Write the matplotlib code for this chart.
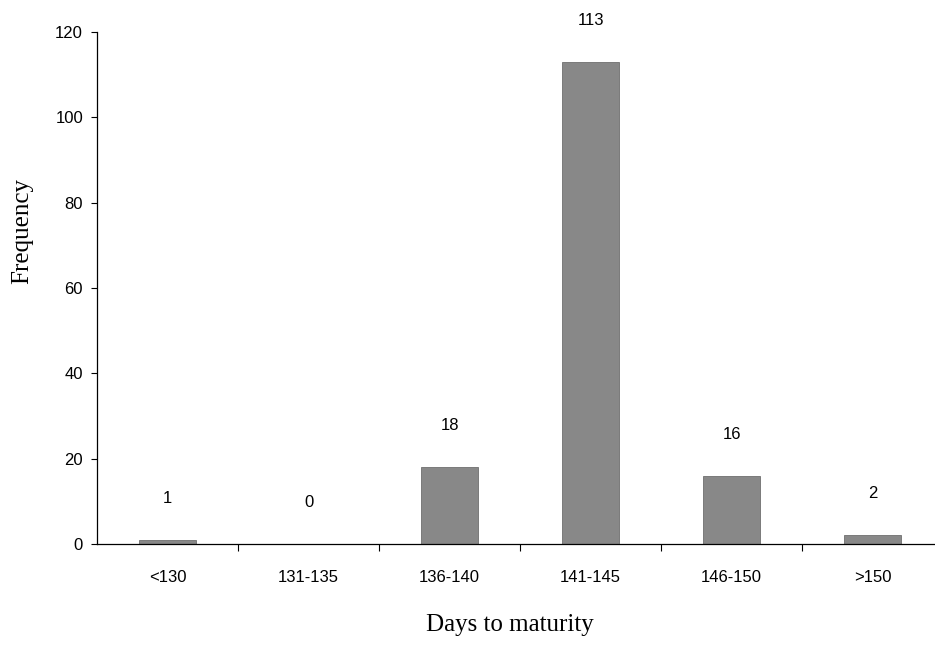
import matplotlib.pyplot as plt
import numpy as np

categories = ["<130", "131-135", "136-140", "141-145", "146-150", ">150"]
frequency = [1, 0, 18, 113, 16, 2]
y_ticks = [0, 20, 40, 60, 80, 100, 120]

fig = plt.figure(figsize=(9.35, 6.55), dpi=100)
ax = fig.add_axes([0.1037, 0.1695, 0.905, 0.7815])

x = np.arange(len(categories))
ax.bar(x, frequency, width=0.4, color="#888888", edgecolor="#6f6f6f", linewidth=0.6)

# value labels sit a fixed distance above each bar
for xi, value in zip(x, frequency):
    ax.annotate(
        str(value),
        xy=(xi, value),
        xytext=(0, 34),
        textcoords="offset pixels",
        ha="center",
        va="bottom",
        fontsize=12,
        family="Liberation Sans",
    )

ax.set_xlim(-0.5, len(categories) - 0.5)
ax.set_ylim(0, 120)
ax.set_yticks(y_ticks)
ax.set_xticks(x)
ax.set_xticklabels(categories, family="Liberation Sans", fontsize=12)
ax.set_xticks(x[:-1] + 0.5, minor=True)
ax.tick_params(axis="x", which="major", length=0, pad=19)
ax.tick_params(axis="x", which="minor", length=5, direction="out", width=0.8)
ax.tick_params(axis="y", length=4, width=0.8, pad=6, labelsize=12)
for label in ax.get_yticklabels():
    label.set_family("Liberation Sans")

ax.spines["top"].set_visible(False)
ax.spines["right"].set_visible(False)
ax.spines["left"].set_linewidth(0.9)
ax.spines["bottom"].set_linewidth(0.9)

fig.text(0.024, 0.647, "Frequency", rotation=90, ha="center", va="center",
         family="Liberation Serif", fontsize=18)
fig.text(0.545, 0.046, "Days to maturity", ha="center", va="center",
         family="Liberation Serif", fontsize=18)

fig.savefig("out.png", dpi=100)
